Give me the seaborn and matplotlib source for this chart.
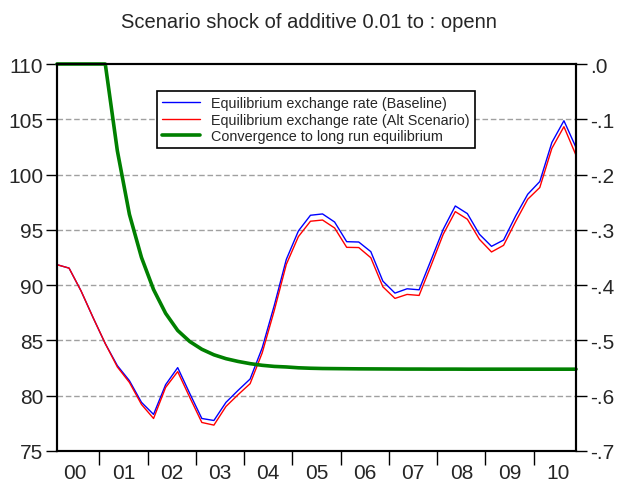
import numpy as np
import pandas as pd
import matplotlib
matplotlib.use("Agg")
import matplotlib.pyplot as plt
import seaborn as sns

# quarterly observations 2000Q1 .. 2010Q4
years = ["00", "01", "02", "03", "04", "05", "06", "07", "08", "09", "10"]

baseline = [91.85, 91.54, 89.46, 87.04, 84.71, 82.72, 81.36, 79.40, 78.31, 81.00,
            82.54, 80.20, 77.94, 77.76, 79.40, 80.48, 81.51, 84.32, 88.16, 92.33,
            94.90, 96.32, 96.44, 95.71, 93.93, 93.90, 93.03, 90.36, 89.28, 89.67,
            89.58, 92.30, 95.05, 97.16, 96.47, 94.60, 93.51, 94.08, 96.26, 98.22,
            99.37, 102.90, 104.87, 102.45]
alt_scenario = [91.85, 91.54, 89.46, 87.04, 84.71, 82.60, 81.20, 79.21, 77.94, 80.75,
                82.18, 79.85, 77.58, 77.34, 79.03, 80.09, 81.09, 83.87, 87.70, 91.88,
                94.39, 95.78, 95.89, 95.17, 93.42, 93.40, 92.48, 89.85, 88.80, 89.16,
                89.07, 91.80, 94.60, 96.65, 95.96, 94.14, 93.00, 93.60, 95.75, 97.77,
                98.83, 102.37, 104.33, 101.75]
convergence = [0.0, 0.0, 0.0, 0.0, 0.0, -0.157, -0.272, -0.350, -0.408, -0.451,
               -0.482, -0.502, -0.516, -0.526, -0.533, -0.538, -0.542, -0.545, -0.547, -0.548,
               -0.5495, -0.5503, -0.5508, -0.551, -0.5512, -0.5514, -0.5515, -0.5516, -0.5517, -0.5518,
               -0.5518, -0.5519, -0.5519, -0.5519, -0.552, -0.552, -0.552, -0.552, -0.552, -0.552,
               -0.552, -0.552, -0.552, -0.552]

labels = ["Equilibrium exchange rate (Baseline)",
          "Equilibrium exchange rate (Alt Scenario)",
          "Convergence to long run equilibrium"]

df = pd.DataFrame({
    "obs": np.arange(len(baseline)),
    "baseline": baseline,
    "alt": alt_scenario,
    "conv": convergence,
})

sns.set_style("white")
plt.rcParams["font.family"] = ["Liberation Sans", "DejaVu Sans"]

fig = plt.figure(figsize=(6.18, 4.85), dpi=100)
ax = fig.add_axes([57 / 618, 33 / 485, 519 / 618, 387 / 485])
ax2 = ax.twinx()

sns.lineplot(data=df, x="obs", y="baseline", ax=ax, color="#0000ff", lw=1.0)
sns.lineplot(data=df, x="obs", y="alt", ax=ax, color="#ff0000", lw=1.0)
sns.lineplot(data=df, x="obs", y="conv", ax=ax2, color="#008000", lw=2.6, clip_on=False)

n = len(baseline)
ax.set_xlim(0, n - 1)
ax.set_ylim(75, 110)
ax2.set_ylim(-0.7, 0.0)

ax.set_yticks(np.arange(75, 111, 5))
ax.set_yticklabels([str(v) for v in range(75, 111, 5)])
rticks = np.round(np.arange(-0.7, 0.01, 0.1), 1)
ax2.set_yticks(rticks)
ax2.set_yticklabels([("-" if t < 0 else "") + "." + str(int(round(abs(t) * 10))) for t in rticks])

for v in range(80, 110, 5):
    ax.axhline(v, color="#a0a0a0", lw=1.0, ls=(0, (4, 2)), zorder=0)

# year labels centred on each year, quarter ticks on boundaries
centers = [4 * k + 1.5 for k in range(len(years))]
ax.set_xticks(centers)
ax.set_xticklabels(years)
ax.set_xticks(np.arange(0.5, n - 1, 1.0), minor=True)
ax.tick_params(axis="x", which="major", length=0, pad=9, labelsize=15)
ax.tick_params(axis="x", which="minor", length=5, width=1.0, color="black", direction="out")
sec = ax.secondary_xaxis("bottom")
sec.set_xticks(np.arange(3.5, n - 1, 4.0))
sec.set_xticklabels([])
sec.tick_params(length=10, width=1.0, color="black", direction="out")
sec.spines["bottom"].set_visible(False)

ax.tick_params(axis="y", length=8, width=1.0, color="black", direction="out", labelsize=15, pad=2, left=True)
ax2.tick_params(axis="y", length=8, width=1.0, color="black", direction="out", labelsize=15, pad=2, right=True)

ax.set_xlabel("")
ax.set_ylabel("")
ax2.set_ylabel("")
for a in (ax, ax2):
    for s in a.spines.values():
        s.set_visible(True)
        s.set_color("black")
        s.set_linewidth(1.5)

handles = ax.get_lines()[:2] + ax2.get_lines()[:1]
leg = ax2.legend(handles, labels, loc="upper left", bbox_to_anchor=(157 / 618, 1 - 92 / 485),
                 bbox_transform=fig.transFigure, fontsize=10.4, handlelength=2.6,
                 labelspacing=0.18, borderpad=0.35, handletextpad=0.8, fancybox=False,
                 framealpha=1.0, borderaxespad=0)
leg.get_frame().set_edgecolor("black")
leg.get_frame().set_linewidth(1.2)

fig.suptitle("Scenario shock of additive 0.01 to : openn", y=1 - 22 / 485, va="center", fontsize=14.5)

fig.savefig("out.png", dpi=100)
